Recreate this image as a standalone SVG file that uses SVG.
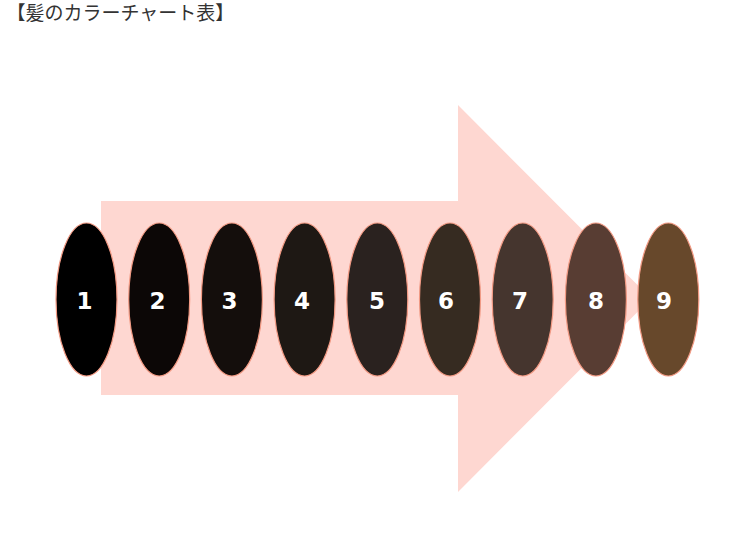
<svg xmlns="http://www.w3.org/2000/svg" width="747" height="549" viewBox="0 0 747 549">
<style>
.title{font-family:"Noto Sans CJK JP","Noto Sans",sans-serif;font-size:19px;fill:#333333}
.swatch{stroke:#f29a84;stroke-width:1.2}
.num{font-family:"DejaVu Sans","Liberation Sans",sans-serif;font-size:23px;font-weight:bold;fill:#ffffff;text-anchor:middle}
</style>
<rect width="747" height="549" fill="#ffffff"/>
<text class="title" x="6.5" y="20">【髪のカラーチャート表】</text>
<g id="arrow">
<polygon points="101,201 458,201 458,105 651,298.5 458,492 458,395 101,395" fill="#fed7d1"/>
</g>
<g id="connectors"></g>
<g id="n1"><ellipse class="swatch" cx="86.5" cy="299.5" rx="30.5" ry="76.5" fill="#000000"/><text class="num" x="84.5" y="309">1</text></g>
<g id="n2"><ellipse class="swatch" cx="159.2" cy="299.5" rx="30.5" ry="76.5" fill="#0c0706"/><text class="num" x="157.5" y="309">2</text></g>
<g id="n3"><ellipse class="swatch" cx="231.9" cy="299.5" rx="30.5" ry="76.5" fill="#140e0c"/><text class="num" x="229.5" y="309">3</text></g>
<g id="n4"><ellipse class="swatch" cx="304.6" cy="299.5" rx="30.5" ry="76.5" fill="#1e1814"/><text class="num" x="302" y="309">4</text></g>
<g id="n5"><ellipse class="swatch" cx="377.3" cy="299.5" rx="30.5" ry="76.5" fill="#2a221f"/><text class="num" x="377" y="309">5</text></g>
<g id="n6"><ellipse class="swatch" cx="450" cy="299.5" rx="30.5" ry="76.5" fill="#362b21"/><text class="num" x="446" y="309">6</text></g>
<g id="n7"><ellipse class="swatch" cx="522.7" cy="299.5" rx="30.5" ry="76.5" fill="#45352e"/><text class="num" x="520" y="309">7</text></g>
<g id="n8"><ellipse class="swatch" cx="595.9" cy="299.5" rx="30.5" ry="76.5" fill="#583d33"/><text class="num" x="596" y="309">8</text></g>
<g id="n9"><ellipse class="swatch" cx="668.3" cy="299.5" rx="30.5" ry="76.5" fill="#67482b"/><text class="num" x="664" y="309">9</text></g>
</svg>
